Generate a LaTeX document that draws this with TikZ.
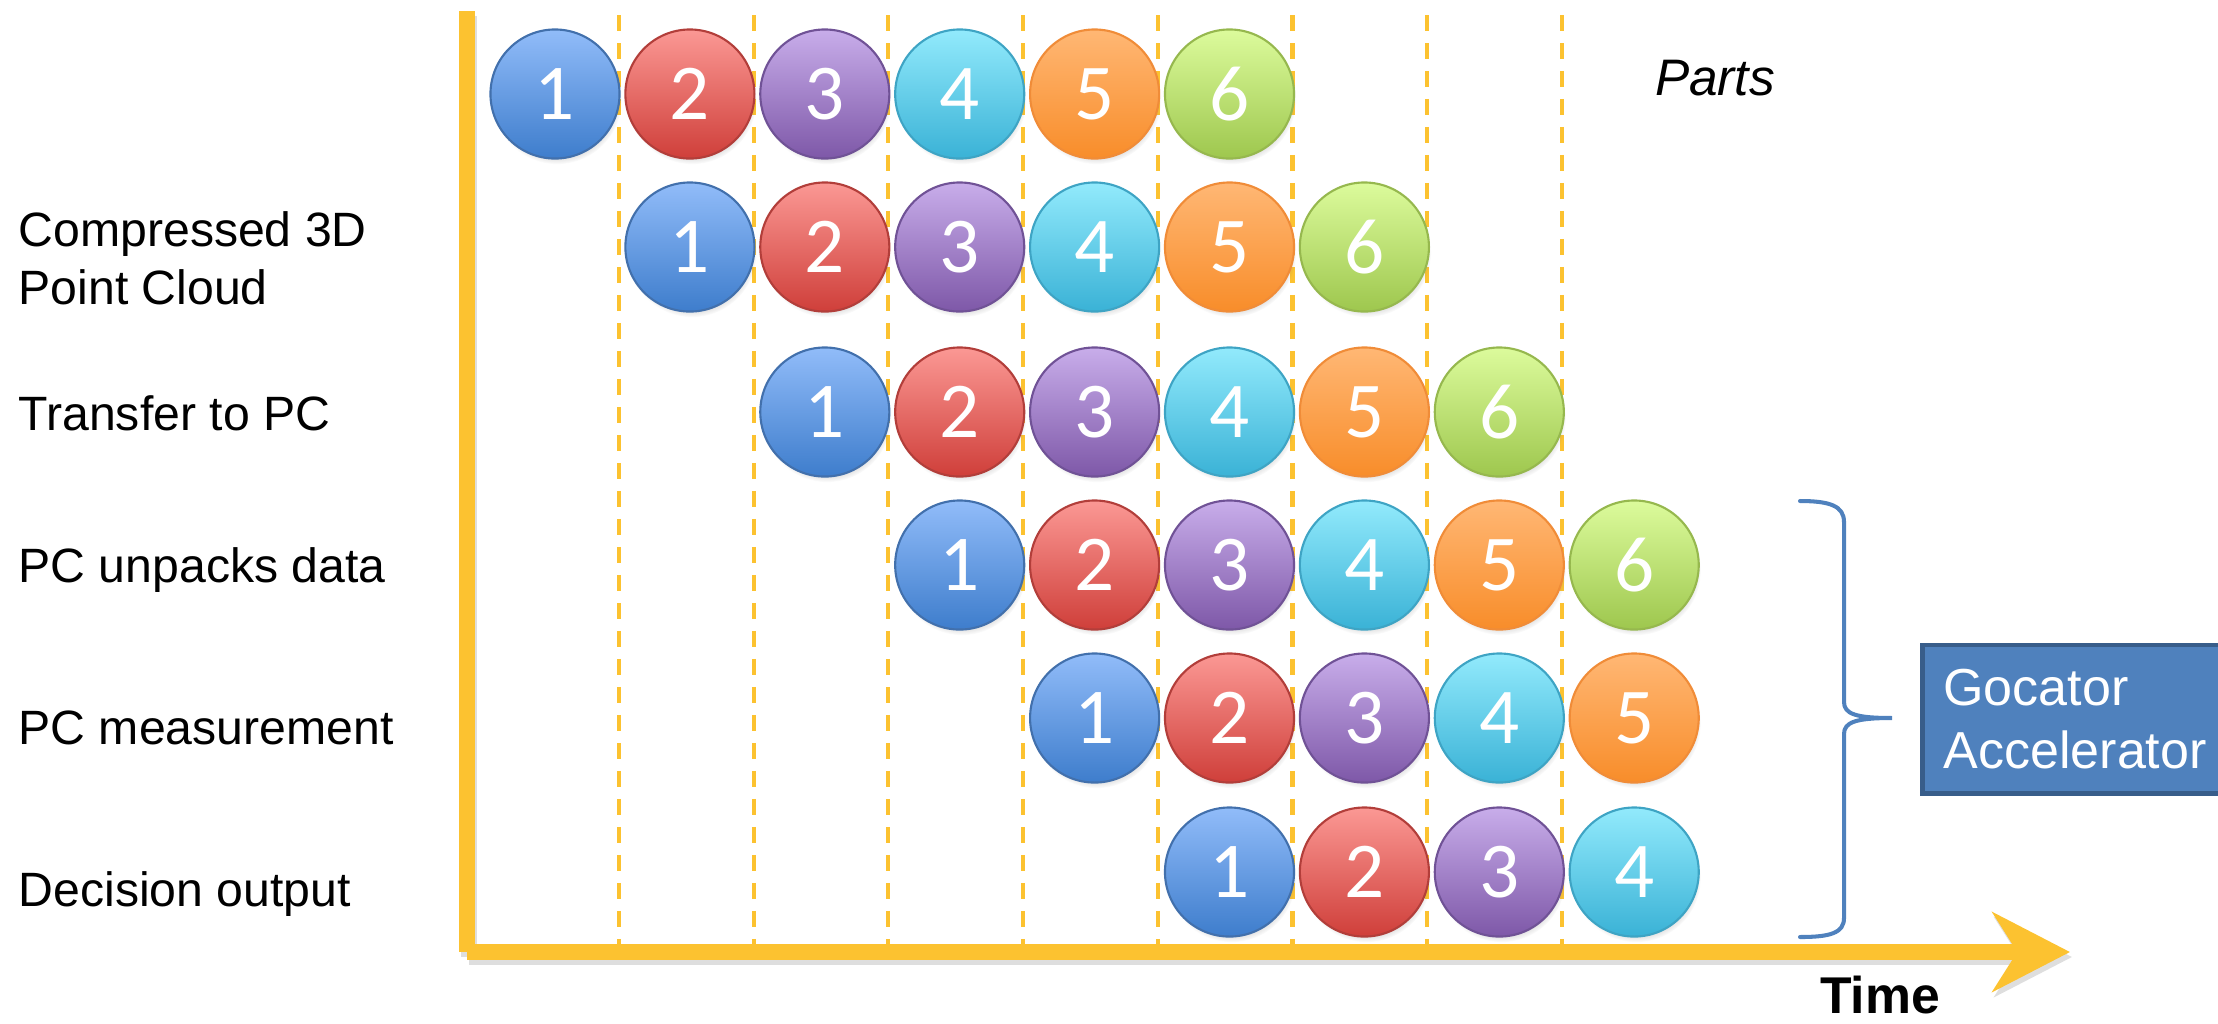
\documentclass[tikz,border=0pt]{standalone}
\usepackage{fontspec}
\setmainfont{Liberation Sans}
\newfontfamily\digitfont{Carlito}
\usepackage{tikz}
\usetikzlibrary{arrows.meta,positioning,calc,shadows,fadings}

\definecolor{axisyellow}{RGB}{252,194,48}
\definecolor{braceblue}{RGB}{79,129,189}
\definecolor{boxedge}{RGB}{56,93,138}
% part colours: top / bottom / edge
\definecolor{blueT}{RGB}{145,188,249}
\definecolor{blueB}{RGB}{62,125,204}
\definecolor{blueE}{RGB}{66,112,172}
\definecolor{redT}{RGB}{251,152,148}
\definecolor{redB}{RGB}{207,63,58}
\definecolor{redE}{RGB}{178,62,58}
\definecolor{purpT}{RGB}{200,173,234}
\definecolor{purpB}{RGB}{126,88,168}
\definecolor{purpE}{RGB}{112,82,150}
\definecolor{cyanT}{RGB}{146,234,252}
\definecolor{cyanB}{RGB}{58,178,214}
\definecolor{cyanE}{RGB}{62,164,196}
\definecolor{orngT}{RGB}{255,183,116}
\definecolor{orngB}{RGB}{248,141,42}
\definecolor{orngE}{RGB}{240,140,56}
\definecolor{grnT}{RGB}{220,251,156}
\definecolor{grnB}{RGB}{158,199,78}
\definecolor{grnE}{RGB}{150,184,78}

\begin{document}
\begin{tikzpicture}[x=0.01cm, y=-0.01cm,
    part/.style={circle, minimum size=1.29cm, inner sep=0pt, line width=0.6pt, text=white,
      font=\digitfont\fontsize{22.5}{22.5}\selectfont,
      circular drop shadow={shadow xshift=0.6pt, shadow yshift=-1.6pt, shadow scale=1.0, opacity=0.35}},
    part1/.style={part, top color=blueT, bottom color=blueB, draw=blueE},
    part2/.style={part, top color=redT, bottom color=redB, draw=redE},
    part3/.style={part, top color=purpT, bottom color=purpB, draw=purpE},
    part4/.style={part, top color=cyanT, bottom color=cyanB, draw=cyanE},
    part5/.style={part, top color=orngT, bottom color=orngB, draw=orngE},
    part6/.style={part, top color=grnT, bottom color=grnB, draw=grnE},
    stage/.style={anchor=base west, inner sep=0pt, font=\fontsize{13.7}{16.5}\selectfont},
    tickline/.style={axisyellow, line width=1.15pt, dash pattern=on 4.55pt off 3.41pt},
    axis/.style={axisyellow, line width=4.55pt},
    axshadow/.style={black, opacity=0.13, line width=4.55pt},
    accbox/.style={fill=braceblue, draw=boxedge, line width=1.4pt, text=white, align=left,
      text width=3.2cm, inner xsep=0.21cm, minimum height=1.48cm,
      font=\fontsize{14.8}{17.9}\selectfont}]
    \useasboundingbox (0,0) rectangle (2218,1023);

    % time axis
    \coordinate (ytop) at (467,11);
    \coordinate (o) at (467,952);
    \coordinate (xend) at (2070,952);
    \draw[axshadow] (469,16) -- (469,957);
    \draw[axshadow, -{Stealth[length=22pt, width=22.5pt, inset=7pt]}] (469,957) -- (2072,957);
    \draw[axis] (ytop) -- (o);
    \draw[axis, -{Stealth[length=22pt, width=22.5pt, inset=7pt]}] (o) -- (xend);

    % time slots
    \foreach \i in {0,...,7}{
      \draw[tickline] ({619+134.7*\i},15) -- ({619+134.7*\i},955);
    }

    % parts through the stages
    \foreach \r/\y in {0/94,1/247,2/412,3/565,4/718,5/872}{
      \foreach \k in {1,...,6}{
        \pgfmathtruncatemacro{\c}{\r+\k-1}
        \ifnum\c<9
          \node[part\k] (r\r-p\k) at ({555+134.9*\c},\y) {\k};
        \fi
      }
    }

    % stage labels
    \node[stage, anchor=north west, align=left] (lb1) at (18,211) {Compressed 3D\\Point Cloud};
    \node[stage] (lb2) at (18,430) {Transfer to PC};
    \node[stage] (lb3) at (18,582) {PC unpacks data};
    \node[stage] (lb4) at (18,744) {PC measurement};
    \node[stage] (lb5) at (18,906) {Decision output};

    \node[anchor=base, inner sep=0pt, font=\itshape\fontsize{14.6}{17}\selectfont] (parts) at (1715,95) {Parts};
    \node[anchor=base, inner sep=0pt, font=\bfseries\fontsize{14.7}{17}\selectfont] (time) at (1880,1013) {Time};

    % accelerator brace
    \draw[braceblue, line width=1.15pt, line cap=round]
      (1800,501) .. controls (1830,501) and (1844,506) .. (1844,522) -- (1844,702)
      .. controls (1844,714) and (1856,718) .. (1892,718)
      .. controls (1856,718) and (1844,722) .. (1844,734) -- (1844,918)
      .. controls (1844,933) and (1830,937) .. (1800,937);
    \node[accbox, anchor=west] (acc) at (1920,719) {Gocator\\Accelerator};
\end{tikzpicture}
\end{document}
